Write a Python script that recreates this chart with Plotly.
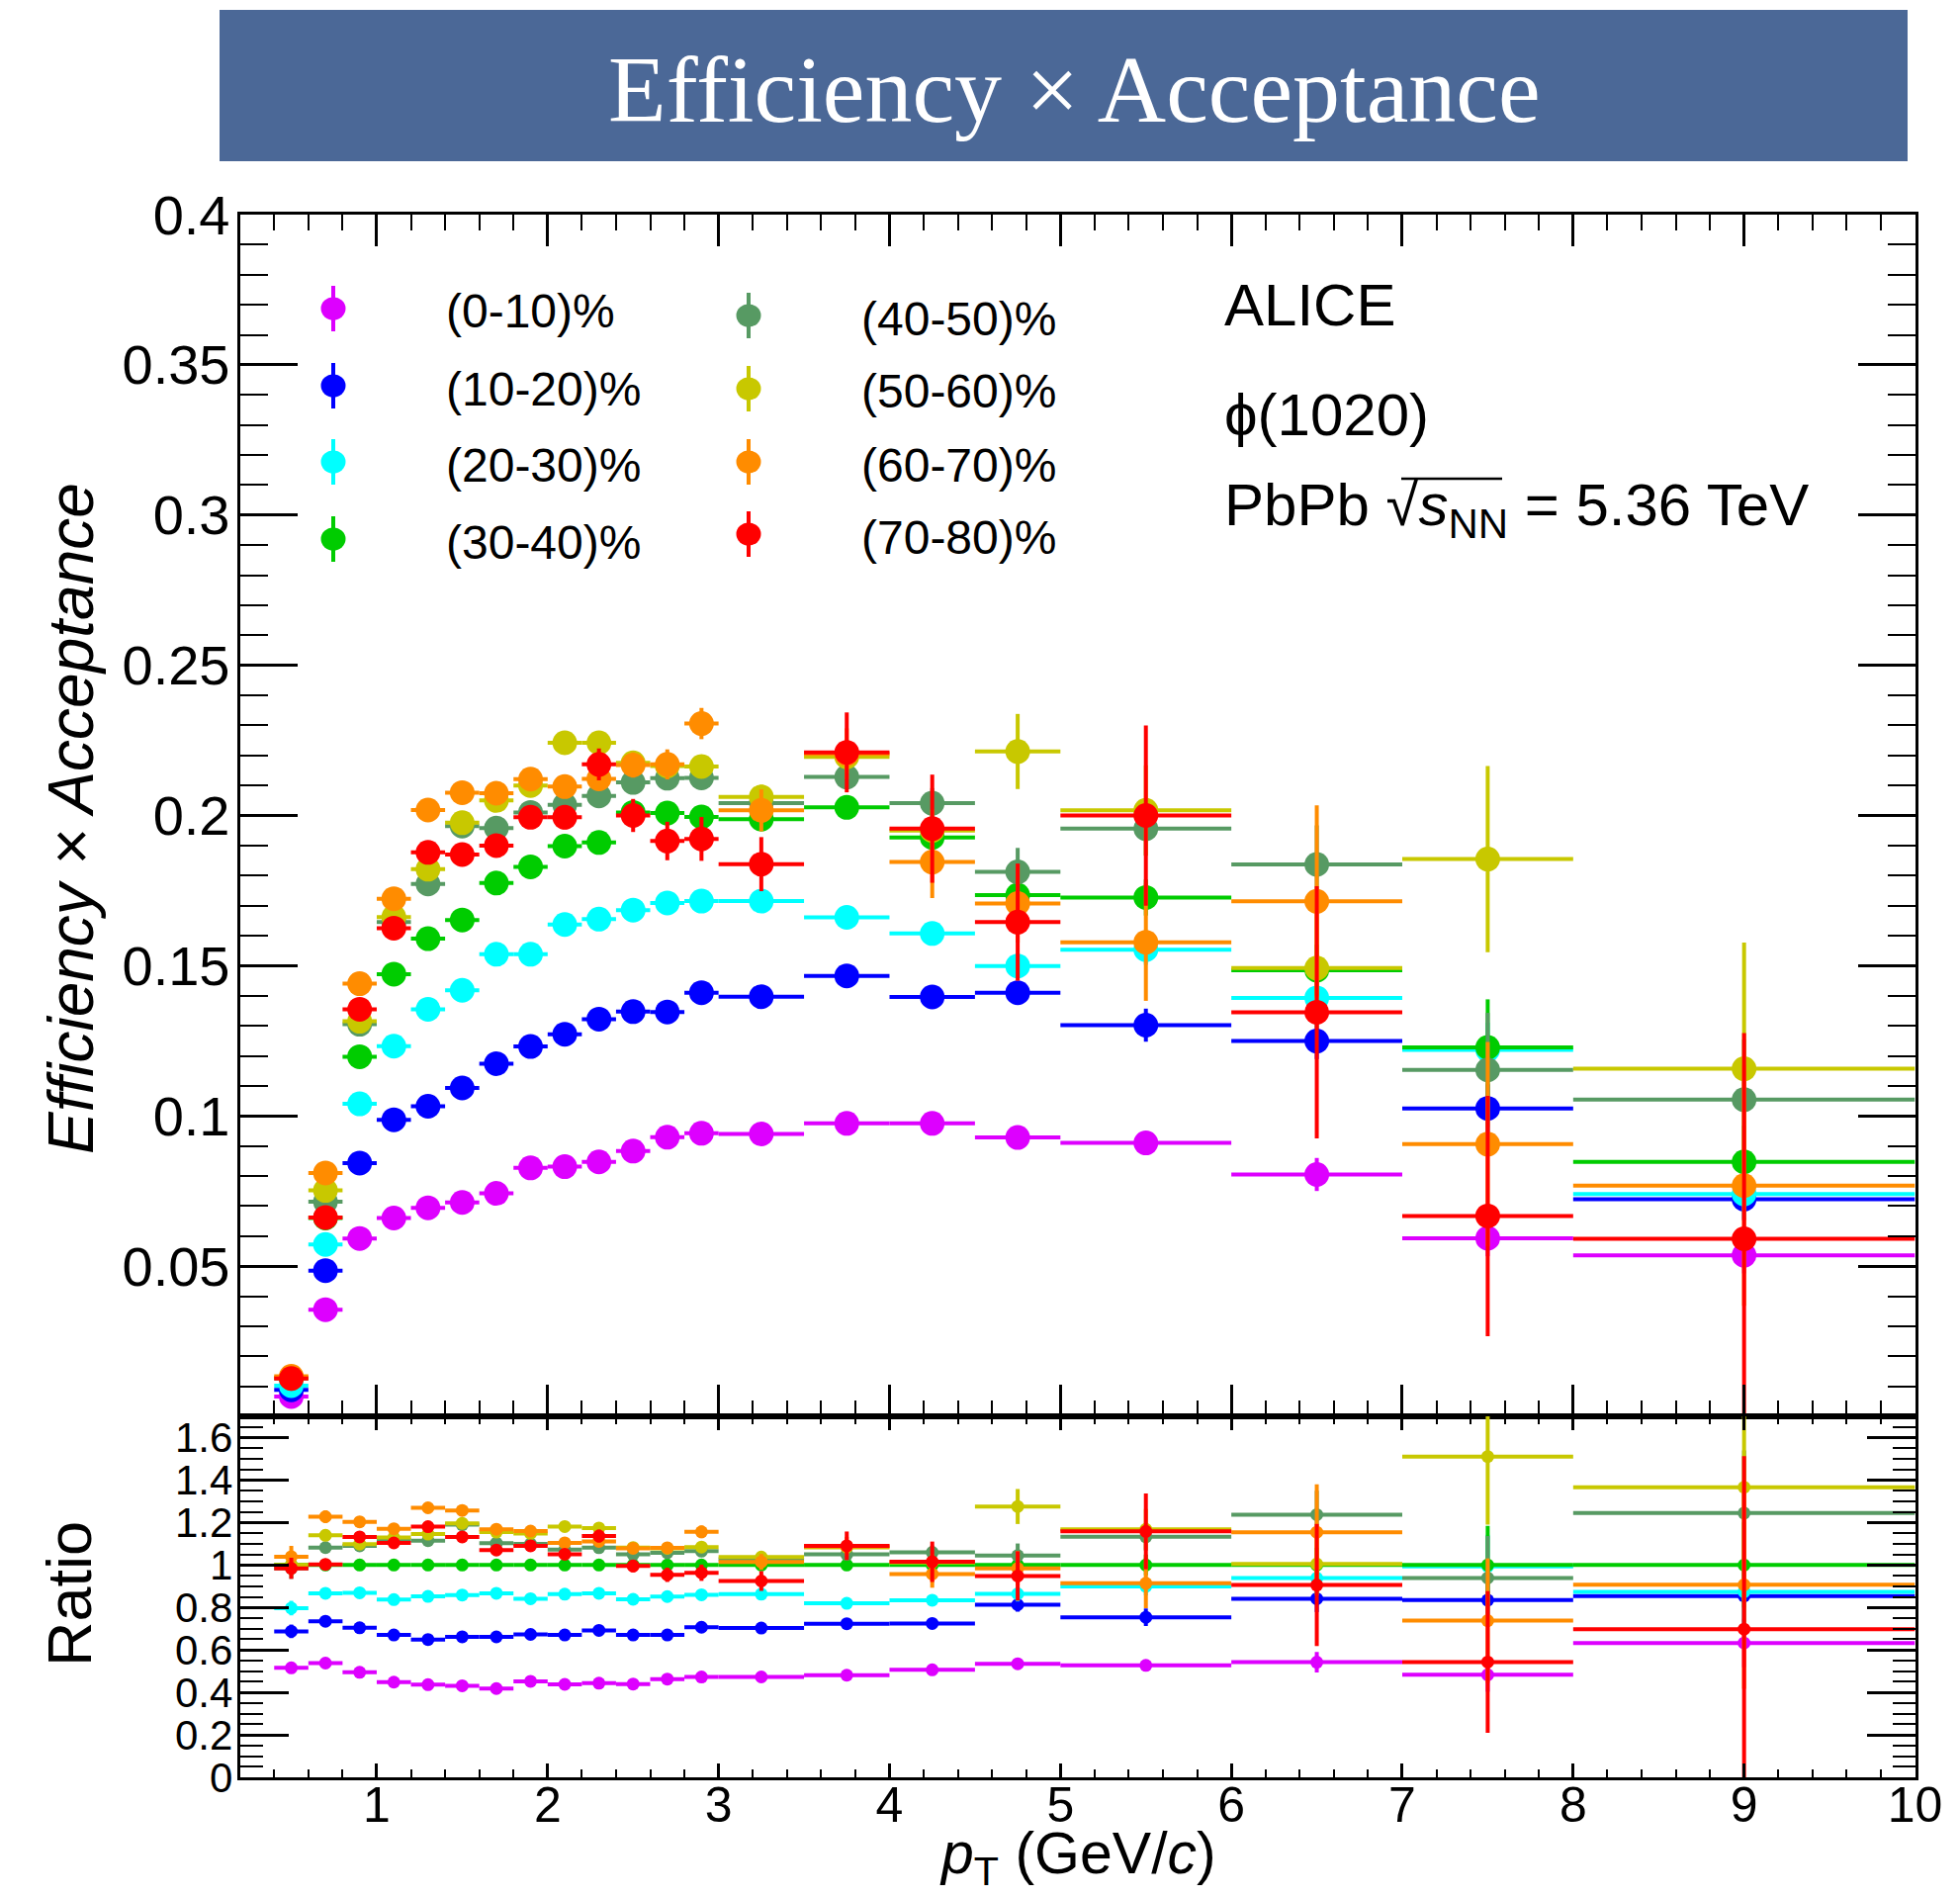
import math
import plotly.graph_objects as go

# ---------------------------------------------------------------------------
# phi(1020) efficiency x acceptance in Pb-Pb, per centrality class
# ---------------------------------------------------------------------------
pt_centers = [0.5, 0.7, 0.9, 1.1, 1.3, 1.5, 1.7, 1.9, 2.1, 2.3, 2.5, 2.7, 2.9,
              3.25, 3.75, 4.25, 4.75, 5.5, 6.5, 7.5, 9.0]
pt_half_widths = [0.1] * 13 + [0.25] * 4 + [0.5] * 3 + [1.0]

centrality_labels = ["(0-10)%", "(10-20)%", "(20-30)%", "(30-40)%",
                     "(40-50)%", "(50-60)%", "(60-70)%", "(70-80)%"]

eff_0_10 = [0.0066, 0.0355, 0.0592, 0.0660, 0.0694, 0.0712, 0.0742, 0.0827, 0.0831, 0.0847, 0.0883,
            0.0929, 0.0942, 0.0940, 0.0975, 0.0975, 0.0928, 0.0910, 0.0805, 0.0593, 0.0536]
err_0_10 = [0.0002, 0.0005, 0.0006, 0.0006, 0.0007, 0.0007, 0.0008, 0.0008, 0.0009, 0.0009, 0.0010,
            0.0010, 0.0011, 0.0010, 0.0012, 0.0015, 0.0020, 0.0025, 0.0055, 0.0060, 0.0060]

eff_10_20 = [0.0088, 0.0485, 0.0843, 0.0987, 0.1032, 0.1093, 0.1174, 0.1231, 0.1272, 0.1322, 0.1347,
             0.1346, 0.1410, 0.1397, 0.1466, 0.1396, 0.1410, 0.1302, 0.1249, 0.1025, 0.0723]
err_10_20 = [0.0003, 0.0007, 0.0009, 0.0010, 0.0010, 0.0011, 0.0012, 0.0012, 0.0013, 0.0014, 0.0015,
             0.0016, 0.0017, 0.0016, 0.0019, 0.0023, 0.0035, 0.0055, 0.0060, 0.0080, 0.0070]

eff_20_30 = [0.0102, 0.0572, 0.1040, 0.1232, 0.1355, 0.1418, 0.1538, 0.1538, 0.1637, 0.1655, 0.1685,
             0.1709, 0.1715, 0.1715, 0.1661, 0.1607, 0.1499, 0.1553, 0.1393, 0.1220, 0.0740]
err_20_30 = [0.0003, 0.0008, 0.0011, 0.0012, 0.0013, 0.0014, 0.0015, 0.0015, 0.0016, 0.0017, 0.0018,
             0.0019, 0.0020, 0.0019, 0.0022, 0.0027, 0.0040, 0.0050, 0.0070, 0.0090, 0.0080]

eff_30_40 = [0.0128, 0.0660, 0.1197, 0.1472, 0.1590, 0.1652, 0.1775, 0.1829, 0.1898, 0.1910, 0.2010,
             0.2008, 0.1995, 0.1988, 0.2027, 0.1927, 0.1735, 0.1727, 0.1485, 0.1228, 0.0847]
err_30_40 = [0.0004, 0.0010, 0.0013, 0.0014, 0.0015, 0.0016, 0.0017, 0.0018, 0.0019, 0.0020, 0.0022,
             0.0023, 0.0024, 0.0023, 0.0028, 0.0035, 0.0055, 0.0060, 0.0085, 0.0160, 0.0120]

eff_40_50 = [0.0126, 0.0714, 0.1305, 0.1645, 0.1772, 0.1965, 0.1958, 0.2010, 0.2035, 0.2065, 0.2110,
             0.2124, 0.2125, 0.2041, 0.2128, 0.2041, 0.1812, 0.1956, 0.1837, 0.1153, 0.1054]
err_40_50 = [0.0005, 0.0012, 0.0016, 0.0018, 0.0019, 0.0020, 0.0022, 0.0023, 0.0024, 0.0026, 0.0028,
             0.0030, 0.0032, 0.0030, 0.0040, 0.0050, 0.0080, 0.0090, 0.0130, 0.0190, 0.0200]

eff_50_60 = [0.0128, 0.0752, 0.1315, 0.1662, 0.1821, 0.1976, 0.2050, 0.2100, 0.2242, 0.2242, 0.2175,
             0.2165, 0.2163, 0.2062, 0.2195, 0.1950, 0.2213, 0.2017, 0.1492, 0.1855, 0.1157]
err_50_60 = [0.0005, 0.0013, 0.0017, 0.0019, 0.0020, 0.0022, 0.0024, 0.0025, 0.0027, 0.0029, 0.0031,
             0.0033, 0.0035, 0.0040, 0.0055, 0.0070, 0.0125, 0.0150, 0.0200, 0.0310, 0.0420]

eff_60_70 = [0.0133, 0.0810, 0.1440, 0.1723, 0.2018, 0.2076, 0.2074, 0.2121, 0.2096, 0.2122, 0.2168,
             0.2170, 0.2306, 0.2017, 0.2205, 0.1845, 0.1707, 0.1578, 0.1714, 0.0906, 0.0768]
err_60_70 = [0.0005, 0.0015, 0.0020, 0.0022, 0.0024, 0.0026, 0.0028, 0.0030, 0.0034, 0.0038, 0.0042,
             0.0050, 0.0052, 0.0070, 0.0085, 0.0120, 0.0130, 0.0195, 0.0320, 0.0340, 0.0400]

eff_70_80 = [0.0126, 0.0662, 0.1355, 0.1625, 0.1877, 0.1870, 0.1900, 0.1994, 0.1994, 0.2170, 0.2000,
             0.1915, 0.1922, 0.1838, 0.2210, 0.1956, 0.1645, 0.2000, 0.1345, 0.0667, 0.0591]
err_70_80 = [0.0005, 0.0012, 0.0018, 0.0021, 0.0024, 0.0026, 0.0030, 0.0032, 0.0040, 0.0053, 0.0055,
             0.0064, 0.0073, 0.0090, 0.0133, 0.0180, 0.0195, 0.0300, 0.0420, 0.0400, 0.0685]

efficiencies = [eff_0_10, eff_10_20, eff_20_30, eff_30_40, eff_40_50, eff_50_60, eff_60_70, eff_70_80]
errors = [err_0_10, err_10_20, err_20_30, err_30_40, err_40_50, err_50_60, err_60_70, err_70_80]

# the ratio panel divides every class by the (30-40)% one
reference_index = 3

colors = ["#DD00FF", "#0000FF", "#00FFFF", "#00CC00",
          "#579A63", "#C8C800", "#FF8C00", "#FF0000"]

# ---------------------------------------------------------------------------
W, H = 1982, 1918
FONT = "Liberation Sans"


def px_x(x):
    return x / W


def px_y(y):
    return 1 - y / H


X_LEFT, X_RIGHT = 242.7, 1936.5
UP_TOP, UP_BOTTOM = 217.0, 1432.0
RAT_BOTTOM = 1797.0

fig = go.Figure()

ref_eff = efficiencies[reference_index]
ref_err = errors[reference_index]

for eff, err, color in zip(efficiencies, errors, colors):
    fig.add_trace(go.Scatter(
        x=pt_centers, y=eff, mode="markers",
        marker=dict(color=color, size=25, line=dict(width=0)),
        error_x=dict(type="data", array=pt_half_widths, symmetric=True,
                     width=0, thickness=4, color=color),
        error_y=dict(type="data", array=err, symmetric=True,
                     width=0, thickness=4, color=color),
        xaxis="x", yaxis="y", showlegend=False, hoverinfo="skip",
    ))

for eff, err, color in zip(efficiencies, errors, colors):
    ratio = [v / g for v, g in zip(eff, ref_eff)]
    ratio_err = [r * math.sqrt((e / v) ** 2 + (eg / g) ** 2)
                 for r, v, e, g, eg in zip(ratio, eff, err, ref_eff, ref_err)]
    fig.add_trace(go.Scatter(
        x=pt_centers, y=ratio, mode="markers",
        marker=dict(color=color, size=13, line=dict(width=0)),
        error_x=dict(type="data", array=pt_half_widths, symmetric=True,
                     width=0, thickness=4, color=color),
        error_y=dict(type="data", array=ratio_err, symmetric=True,
                     width=0, thickness=4, color=color),
        xaxis="x2", yaxis="y2", showlegend=False, hoverinfo="skip",
    ))

axis_common = dict(showgrid=False, zeroline=False, showline=True, linewidth=3,
                   linecolor="black", mirror="allticks", ticks="inside",
                   tickcolor="black", tickwidth=2.5, automargin=False)

upper_ticks = [0.05 * i for i in range(9)]
upper_text = [""] + ["%g" % round(v, 2) for v in upper_ticks[1:]]

fig.update_layout(
    width=W, height=H,
    margin=dict(l=0, r=0, t=0, b=0, pad=0, autoexpand=False),
    paper_bgcolor="white", plot_bgcolor="white",
    showlegend=False,
    xaxis=dict(domain=[px_x(X_LEFT), px_x(X_RIGHT)], range=[0.2, 10], anchor="y",
               tick0=0, dtick=1, ticklen=32, showticklabels=False,
               minor=dict(dtick=0.2, tick0=0, ticklen=16, ticks="inside",
                          tickwidth=2, tickcolor="black"),
               **axis_common),
    yaxis=dict(domain=[px_y(UP_BOTTOM), px_y(UP_TOP)], range=[0, 0.4], anchor="x",
               tickmode="array", tickvals=upper_ticks, ticktext=upper_text,
               ticklen=58, ticklabelstandoff=-4,
               minor=dict(tickmode="linear", dtick=0.01, tick0=0, ticklen=28,
                          ticks="inside", tickwidth=2, tickcolor="black"),
               tickfont=dict(family=FONT, size=56, color="black"),
               **axis_common),
    xaxis2=dict(domain=[px_x(X_LEFT), px_x(X_RIGHT)], range=[0.2, 10], anchor="y2",
                tick0=0, dtick=1, ticklen=14, ticklabelstandoff=-18,
                minor=dict(dtick=0.2, tick0=0, ticklen=8, ticks="inside",
                           tickwidth=2, tickcolor="black"),
                tickfont=dict(family=FONT, size=50, color="black"),
                **axis_common),
    yaxis2=dict(domain=[px_y(RAT_BOTTOM), px_y(UP_BOTTOM)], range=[0, 1.7], anchor="x2",
                tick0=0, dtick=0.2, ticklen=49, ticklabelstandoff=-4,
                minor=dict(dtick=0.05, tick0=0, ticklen=23, ticks="inside",
                           tickwidth=2, tickcolor="black"),
                tickfont=dict(family=FONT, size=42, color="black"),
                **axis_common),
)

shapes = []
annotations = []

# title banner
shapes.append(dict(type="rect", xref="paper", yref="paper",
                   x0=px_x(222), x1=px_x(1929), y0=px_y(163), y1=px_y(10),
                   fillcolor="rgb(75,104,151)", line=dict(width=0), layer="below"))
annotations.append(dict(text="Efficiency × Acceptance", xref="paper", yref="paper",
                        x=px_x(1086), y=px_y(90), xanchor="center", yanchor="middle",
                        showarrow=False,
                        font=dict(family="Liberation Serif", size=96, color="white")))

# axis titles
annotations.append(dict(text="<i>Efficiency × Acceptance</i>", xref="paper", yref="paper",
                        x=px_x(72), y=px_y(828), xanchor="center", yanchor="middle",
                        textangle=-90, showarrow=False,
                        font=dict(family=FONT, size=64, color="black")))
annotations.append(dict(text="Ratio", xref="paper", yref="paper",
                        x=px_x(70), y=px_y(1612), xanchor="center", yanchor="middle",
                        textangle=-90, showarrow=False,
                        font=dict(family=FONT, size=63, color="black")))
annotations.append(dict(text="<i>p</i><sub>T</sub> (GeV/<i>c</i>)", xref="paper", yref="paper",
                        x=px_x(1090), y=px_y(1878), xanchor="center", yanchor="middle",
                        showarrow=False,
                        font=dict(family=FONT, size=59, color="black")))

# collision system block
info_lines = [("ALICE", 308), ("ϕ(1020)", 419),
              ("PbPb √<i>s</i><sub>NN</sub> = 5.36 TeV", 515)]
for text, yc in info_lines:
    annotations.append(dict(text=text, xref="paper", yref="paper",
                            x=px_x(1236), y=px_y(yc), xanchor="left", yanchor="middle",
                            showarrow=False,
                            font=dict(family=FONT, size=60, color="black")))
# bar of the square root
shapes.append(dict(type="line", xref="paper", yref="paper",
                   x0=px_x(1417), x1=px_x(1519), y0=px_y(484), y1=px_y(484),
                   line=dict(color="black", width=2.5)))

# legend: two columns of four entries
legend_slots = [
    (337, 312), (337, 390), (337, 467), (337, 545),
    (757, 319), (757, 393), (757, 467), (757, 540),
]
label_offset_x = 112
for (mx, my), label, color in zip(legend_slots, centrality_labels, colors):
    shapes.append(dict(type="line", xref="paper", yref="paper",
                       xsizemode="pixel", ysizemode="pixel",
                       xanchor=px_x(mx), yanchor=px_y(my),
                       x0=0, x1=0, y0=-23, y1=23,
                       line=dict(color=color, width=4)))
    shapes.append(dict(type="circle", xref="paper", yref="paper",
                       xsizemode="pixel", ysizemode="pixel",
                       xanchor=px_x(mx), yanchor=px_y(my),
                       x0=-12.5, x1=12.5, y0=-11.5, y1=11.5,
                       fillcolor=color, line=dict(width=0)))
    annotations.append(dict(text=label, xref="paper", yref="paper",
                            x=px_x(mx + label_offset_x), y=px_y(my + 3),
                            xanchor="left", yanchor="middle", showarrow=False,
                            font=dict(family=FONT, size=48, color="black")))

fig.update_layout(shapes=shapes, annotations=annotations)

fig.write_html("out.html", config={"displayModeBar": False})
